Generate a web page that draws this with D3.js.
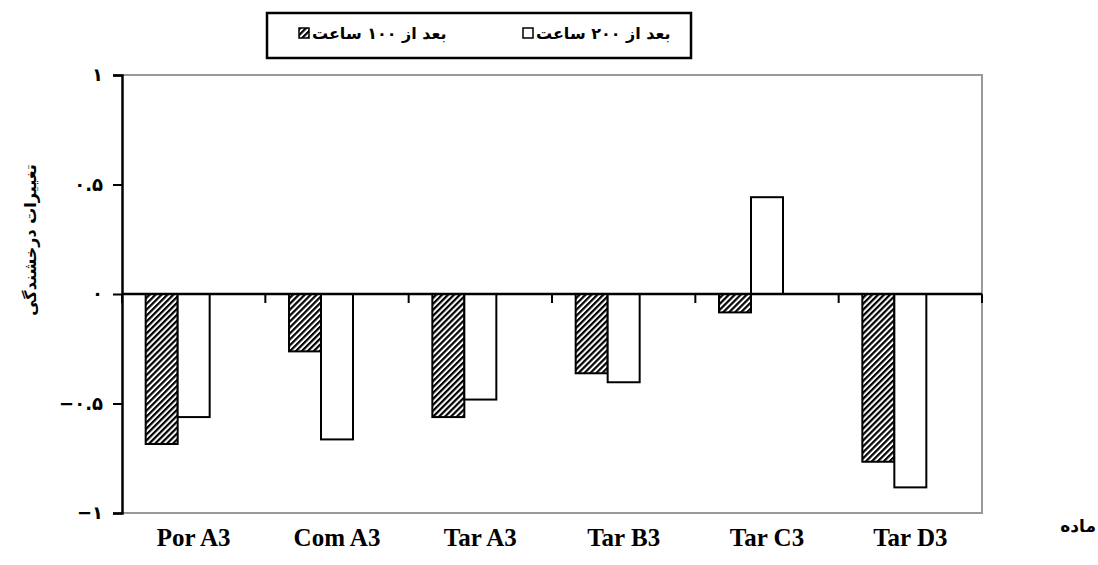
<!DOCTYPE html>
<html>
<head>
<meta charset="utf-8">
<script src="https://cdn.jsdelivr.net/npm/d3@7"></script>
<style>
  body { margin: 0; background: #fff; }
  svg { display: block; }
</style>
</head>
<body>
<svg id="chart" width="1098" height="565"></svg>
<script>
const categories = ["Por A3", "Com A3", "Tar A3", "Tar B3", "Tar C3", "Tar D3"];
const after100 = [-0.685, -0.262, -0.562, -0.362, -0.084, -0.766];
const after200 = [-0.562, -0.664, -0.482, -0.403, 0.442, -0.883];
const seriesNames = ["بعد از ۱۰۰ ساعت", "بعد از ۲۰۰ ساعت"];
const yTicks = [-1, -0.5, 0, 0.5, 1];
const yTickLabels = ["−۱", "−۰.۵", "۰", "۰.۵", "۱"];
const yTitle = "تغییرات درخشندگی";
const xTitle = "ماده";

const persianFont = "'DejaVu Sans', sans-serif";
const margin = { top: 75, right: 116, bottom: 52, left: 122 };
const width = 1098, height = 565;

const svg = d3.select("#chart");

const defs = svg.append("defs");
defs.append("pattern")
  .attr("id", "hatch")
  .attr("patternUnits", "userSpaceOnUse")
  .attr("width", 4.2)
  .attr("height", 4.2)
  .attr("patternTransform", "rotate(45)")
  .call(p => {
    p.append("rect").attr("width", 4.2).attr("height", 4.2).attr("fill", "#fff");
    p.append("rect").attr("width", 2.2).attr("height", 4.2).attr("fill", "#000");
  });

const x0 = d3.scaleBand()
  .domain(categories)
  .range([margin.left, width - margin.right]);

// excel left a third (empty) slot in each group, so bars sit left of centre
const x1 = d3.scaleBand()
  .domain([0, 1, 2])
  .range([0, x0.bandwidth()])
  .paddingOuter(0.74);

const y = d3.scaleLinear()
  .domain([-1, 1])
  .range([height - margin.bottom, margin.top]);

// plot border
svg.append("path")
  .attr("d", `M${margin.left},${margin.top}H${width - margin.right}V${height - margin.bottom}H${margin.left}`)
  .attr("fill", "none")
  .attr("stroke", "#999")
  .attr("stroke-width", 2);

const fills = ["url(#hatch)", "#fff"];
const rows = categories.map((c, i) => ({ category: c, values: [after100[i], after200[i]] }));

svg.append("g")
  .selectAll("g").data(rows).enter().append("g")
  .attr("transform", d => `translate(${x0(d.category)},0)`)
  .selectAll("rect").data(d => d.values.map((v, k) => ({ v, k }))).enter().append("rect")
  .attr("x", d => x1(d.k))
  .attr("width", x1.bandwidth())
  .attr("y", d => y(Math.max(0, d.v)))
  .attr("height", d => Math.abs(y(d.v) - y(0)))
  .attr("fill", d => fills[d.k])
  .attr("stroke", "#000")
  .attr("stroke-width", 2);

// y axis
const yAxis = svg.append("g")
  .attr("transform", `translate(${margin.left},0)`)
  .call(d3.axisLeft(y).tickValues(yTicks).tickSize(9).tickPadding(10)
    .tickFormat((d, i) => yTickLabels[i]));
yAxis.select(".domain").attr("stroke", "#000").attr("stroke-width", 2.5);
yAxis.selectAll(".tick line").attr("stroke", "#000").attr("stroke-width", 2);
yAxis.selectAll(".tick text")
  .attr("font-family", persianFont)
  .attr("font-weight", "bold")
  .attr("font-size", 18)
  .attr("fill", "#000");

// zero line with category ticks
const boundaries = categories.map(c => x0(c)).concat([width - margin.right]);
const zero = svg.append("g");
zero.append("line")
  .attr("x1", margin.left).attr("x2", width - margin.right)
  .attr("y1", y(0)).attr("y2", y(0))
  .attr("stroke", "#000").attr("stroke-width", 2.5);
zero.selectAll(".ctick").data(boundaries).enter().append("line")
  .attr("x1", d => d).attr("x2", d => d)
  .attr("y1", y(0)).attr("y2", y(0) + 9)
  .attr("stroke", "#000").attr("stroke-width", 2);

// category labels
svg.append("g")
  .selectAll("text").data(categories).enter().append("text")
  .attr("x", d => x0(d) + x0.bandwidth() / 2)
  .attr("y", 546)
  .attr("text-anchor", "middle")
  .attr("font-family", "'Liberation Serif', serif")
  .attr("font-weight", "bold")
  .attr("font-size", 25)
  .text(d => d);

svg.append("text")
  .attr("x", 1096)
  .attr("y", 532)
  .attr("text-anchor", "end")
  .attr("font-family", persianFont)
  .attr("font-weight", "bold")
  .attr("font-size", 17)
  .text(xTitle);

svg.append("text")
  .attr("transform", "translate(36,240) rotate(-90)")
  .attr("text-anchor", "middle")
  .attr("font-family", persianFont)
  .attr("font-weight", "bold")
  .attr("font-size", 16)
  .text(yTitle);

// legend
const legend = svg.append("g");
legend.append("rect")
  .attr("x", 267).attr("y", 13)
  .attr("width", 424).attr("height", 45)
  .attr("fill", "#fff")
  .attr("stroke", "#000")
  .attr("stroke-width", 2.5);

const legendX = [299, 523];
legend.selectAll("g").data(seriesNames).enter().append("g")
  .each((name, i, elements) => {
    const g = d3.select(elements[i]);
    g.append("rect")
      .attr("x", legendX[i]).attr("y", 28)
      .attr("width", 10).attr("height", 10)
      .attr("fill", fills[i])
      .attr("stroke", "#000")
      .attr("stroke-width", 1.5);
    g.append("text")
      .attr("x", legendX[i] + 13)
      .attr("y", 39)
      .attr("font-family", persianFont)
      .attr("font-weight", "bold")
      .attr("font-size", 16)
      .text(name);
  });
</script>
</body>
</html>
